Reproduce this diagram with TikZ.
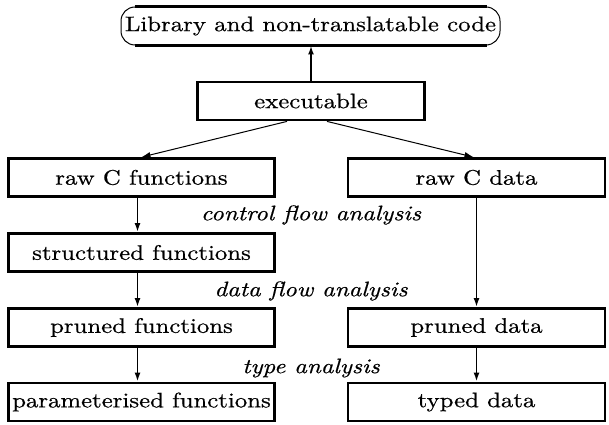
\documentclass[tikz,border=0pt]{standalone}
\usepackage{fontspec}
\setmainfont{lmroman10-regular.otf}[ItalicFont=lmroman10-italic.otf,FakeStretch=1.18,FakeBold=0.6]
\usetikzlibrary{arrows.meta}
\tikzstyle{stage}=[draw,line width=1.4pt,minimum height=19pt,inner sep=0pt,font=\fontsize{10.5}{12}\selectfont]
\tikzstyle{pass}=[inner sep=0pt,font=\fontsize{10.5}{12}\selectfont\itshape]
\tikzstyle{flow}=[-{Latex[length=4.5pt,width=3pt]},line width=0.9pt]

\begin{document}
\begin{tikzpicture}[x=0.5pt,y=0.5pt]
    \useasboundingbox (0,0) rectangle (609,424);
    \node[stage,rounded corners=7pt,line width=0.5pt,minimum width=189.5pt] (lib) at (310.5,398) {Library and non-translatable code};
    \draw[line width=1.5pt] ([xshift=7pt]lib.north west) -- ([xshift=-7pt]lib.north east);
    \draw[line width=1.5pt] ([xshift=7pt]lib.south west) -- ([xshift=-7pt]lib.south east);
    \node[stage,minimum width=113.5pt] (exe) at (311,323) {executable};
    \node[stage,minimum width=133pt] (rawfun) at (141.5,246.5) {raw C functions};
    \node[stage,minimum width=128.5pt] (rawdata) at (476.5,246.5) {raw C data};
    \node[stage,minimum width=133pt] (structfun) at (141.5,171.5) {structured functions};
    \node[stage,minimum width=133pt] (prunedfun) at (141.5,96.5) {pruned functions};
    \node[stage,minimum width=128.5pt] (pruneddata) at (476.5,96.5) {pruned data};
    \node[stage,minimum width=133pt] (paramfun) at (141.5,22) {parameterised functions};
    \node[stage,minimum width=128.5pt] (typeddata) at (476.5,22) {typed data};
    \node[pass] (cfa) at (311,209) {control flow analysis};
    \node[pass] (dfa) at (311,133) {data flow analysis};
    \node[pass] (ta) at (311,56) {type analysis};
    \draw[flow,line width=1.4pt] (exe.north) -- (exe.north |- lib.south);
    \draw[flow,line width=0.5pt] ([xshift=-12pt]exe.south) -- (rawfun.north);
    \draw[flow,line width=0.5pt] ([xshift=8pt]exe.south) -- ([xshift=-1.5pt]rawdata.north);
    \draw[flow] ([xshift=-2pt]rawfun.south) -- ([xshift=-2pt]structfun.north);
    \draw[flow] ([xshift=-2pt]structfun.south) -- ([xshift=-2pt]prunedfun.north);
    \draw[flow] ([xshift=-2pt]prunedfun.south) -- ([xshift=-2pt]paramfun.north);
    \draw[flow] (rawdata) -- (pruneddata);
    \draw[flow] (pruneddata) -- (typeddata);
\end{tikzpicture}
\end{document}
